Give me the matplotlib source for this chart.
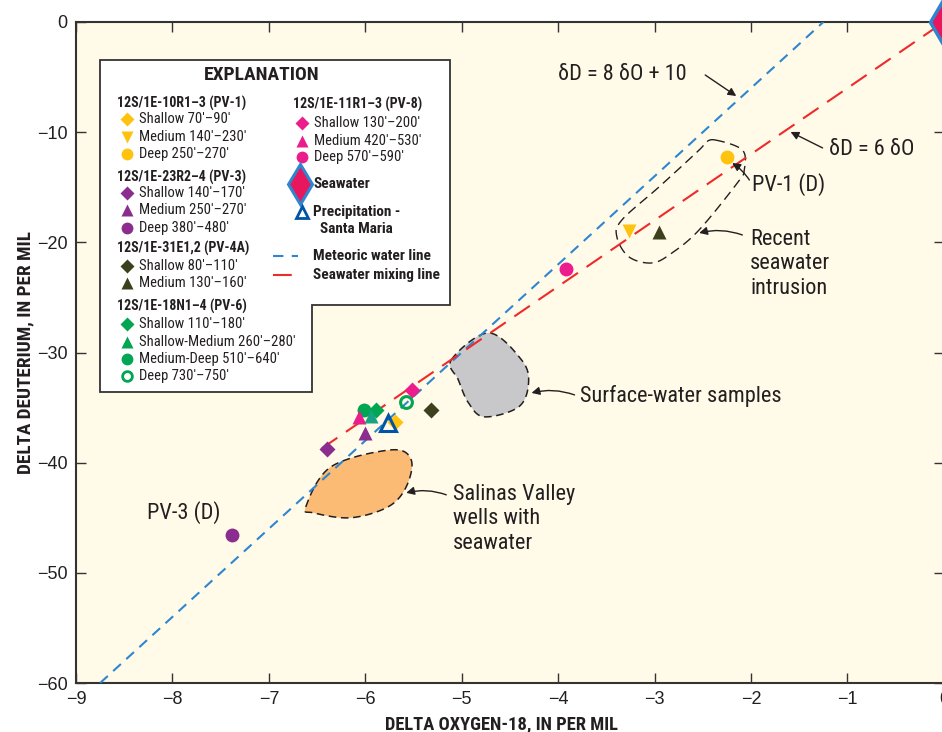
import numpy as np
import matplotlib
matplotlib.use("Agg")
import matplotlib.pyplot as plt
from matplotlib.lines import Line2D
from matplotlib.patches import Polygon
import matplotlib.transforms as mtransforms
from matplotlib import font_manager

_names = {f.name for f in font_manager.fontManager.ttflist}
_pref = [n for n in ['Liberation Sans Narrow', 'Roboto Condensed', 'Open Sans Condensed', 'Roboto'] if n in _names]
FAM = (_pref[:1] or ['DejaVu Sans']) + ['DejaVu Sans']
plt.rcParams['font.family'] = FAM
plt.rcParams['axes.unicode_minus'] = True
CONDENSED = FAM[0] in ('Liberation Sans Narrow', 'Roboto Condensed', 'Open Sans Condensed')
K = 1.0 if CONDENSED else 0.9
_tp = [n for n in ['Liberation Sans', 'Arimo', 'Arial', 'Roboto', 'Noto Sans'] if n in _names]
TICKFAM = (_tp[:1] or ['DejaVu Sans']) + ['DejaVu Sans']

# ---------------- data ----------------
pv1_x = [-5.69, -3.27, -2.25]
pv1_y = [-36.3, -19.0, -12.25]
pv3_x = [-6.40, -6.00, -7.38]
pv3_y = [-38.8, -37.3, -46.6]
pv4a_x = [-5.32, -2.95]
pv4a_y = [-35.2, -19.1]
pv6_x = [-6.01, -5.89, -5.94, -5.58]
pv6_y = [-35.2, -35.2, -35.8, -34.5]
pv8_x = [-5.52, -6.07, -3.92]
pv8_y = [-33.4, -35.9, -22.4]
seawater_x = [0.0]
seawater_y = [0.0]
precip_x = [-5.76]
precip_y = [-36.4]

meteoric_x = [-8.75, -1.25]          # dD = 8 dO + 10
mixing_x = [-6.45, 0.0]              # dD = 6 dO

surface_x = [-5.108, -4.723, -4.38, -4.307, -4.41, -4.765, -4.93, -5.035]
surface_y = [-30.67, -28.22, -30.67, -32.76, -34.94, -35.84, -34.57, -32.49]
salinas_x = [-6.617, -6.357, -5.733, -5.524, -5.576, -5.764, -6.15, -6.534]
salinas_y = [-44.01, -40.38, -38.84, -39.75, -42.2, -44.01, -45.0, -44.56]
recent_x = [-2.371, -2.09, -2.07, -2.142, -2.538, -2.819, -3.027, -3.266, -3.391, -3.339, -2.954, -2.538, -2.476]
recent_y = [-10.71, -11.62, -13.43, -14.61, -18.87, -20.96, -21.87, -21.32, -19.51, -17.97, -14.97, -11.62, -10.98]

x_ticks = [-9, -8, -7, -6, -5, -4, -3, -2, -1, 0]
y_ticks = [0, -10, -20, -30, -40, -50, -60]

YELLOW = '#ffc20e'
PURPLE = '#8b2c8f'
OLIVE = '#3d401d'
GREEN = '#00a651'
TEAL = '#17a383'
PINK = '#ec1c8c'
BLUE = '#0054a6'
MBLUE = '#2e86d1'
RED = '#ee2a2a'
INK = '#231f20'
BG = '#fffbe8'


def smooth_closed(xs, ys, n=20):
    p = np.column_stack([xs, ys])
    m = len(p)
    out = []
    for i in range(m):
        p0, p1, p2, p3 = p[(i - 1) % m], p[i], p[(i + 1) % m], p[(i + 2) % m]
        t = np.linspace(0, 1, n, endpoint=False)[:, None]
        seg = 0.5 * ((2 * p1) + (-p0 + p2) * t + (2 * p0 - 5 * p1 + 4 * p2 - p3) * t ** 2
                     + (-p0 + 3 * p1 - 3 * p2 + p3) * t ** 3)
        out.append(seg)
    return np.vstack(out)


fig = plt.figure(figsize=(9.42, 7.32), dpi=100)
ax = fig.add_axes([76 / 942, 1 - 683 / 732, 1.002 - 76 / 942, (683 - 22) / 732])
ax.set_facecolor(BG)
ax.set_xlim(-9, 0)
ax.set_ylim(-60, 0)
ax.set_xticks(x_ticks)
ax.set_yticks(y_ticks)
ax.set_xticklabels(['0' if v == 0 else '\u2212%d' % abs(v) for v in x_ticks])
ax.set_yticklabels(['0' if v == 0 else '\u2212%d' % abs(v) for v in y_ticks])
ax.tick_params(direction='in', length=7, width=1, colors='#333333', labelcolor=INK,
               labelsize=13, top=True, right=True, pad=6)
for lab in ax.get_xticklabels() + ax.get_yticklabels():
    lab.set_family(TICKFAM)
for s in ax.spines.values():
    s.set_linewidth(1.5)
    s.set_color('#333333')
ax.set_xlabel('DELTA OXYGEN-18, IN PER MIL', fontsize=13.3 * K, fontweight='bold', color=INK)
ax.xaxis.set_label_coords(0.49, -0.049)
ax.set_ylabel('DELTA DEUTERIUM, IN PER MIL', fontsize=13.8 * K, fontweight='bold', color=INK, labelpad=2)

# blobs
sp = smooth_closed(surface_x, surface_y)
ax.add_patch(Polygon(sp, closed=True, facecolor='#c8c8ca', edgecolor=INK, lw=1.1, ls=(0, (5, 3)), zorder=2))
sv = smooth_closed(salinas_x, salinas_y)
ax.add_patch(Polygon(sv, closed=True, facecolor='#fbbb74', edgecolor=INK, lw=1.1, ls=(0, (5, 3)), zorder=2))
rc = smooth_closed(recent_x, recent_y)
ax.add_patch(Polygon(rc, closed=True, facecolor='none', edgecolor=INK, lw=1.0, ls=(0, (7, 4)), zorder=2))

# lines
mx = np.array(meteoric_x)
ax.plot(mx, 8 * mx + 10, color=MBLUE, lw=1.5, ls=(0, (5, 3.5)), zorder=3)
rx = np.array(mixing_x)
ax.plot(rx, 6 * rx, color=RED, lw=1.5, ls=(0, (9, 5)), zorder=3)

# points
ms_d, ms_t, ms_c = 9, 10, 10
ax.plot(pv6_x[0], pv6_y[0], 'o', color=GREEN, ms=ms_c, mec='none', zorder=5)
ax.plot(pv6_x[1], pv6_y[1], 'D', color=GREEN, ms=ms_d * 0.85, mec='none', zorder=5)
ax.plot(pv8_x[1], pv8_y[1], '^', color=PINK, ms=ms_t, mec='none', zorder=6)
ax.plot(pv6_x[2], pv6_y[2], '^', color=TEAL, ms=ms_t, mec='none', zorder=6)
ax.plot(pv6_x[3], pv6_y[3], 'o', mfc='none', mec=GREEN, mew=2.2, ms=ms_c * 0.85, zorder=6)
ax.plot(pv3_x[0], pv3_y[0], 'D', color=PURPLE, ms=ms_d * 0.85, mec='none', zorder=5)
ax.plot(pv3_x[1], pv3_y[1], '^', color=PURPLE, ms=ms_t, mec='none', zorder=5)
ax.plot(pv3_x[2], pv3_y[2], 'o', color=PURPLE, ms=ms_c, mec='none', zorder=5)
ax.plot(pv1_x[0], pv1_y[0], 'D', color=YELLOW, ms=ms_d * 0.85, mec='none', zorder=5)
ax.plot(pv1_x[1], pv1_y[1], 'v', color=YELLOW, ms=ms_t, mec='none', zorder=5)
ax.plot(pv1_x[2], pv1_y[2], 'o', color=YELLOW, ms=ms_c, mec='none', zorder=5)
ax.plot(pv4a_x[0], pv4a_y[0], 'D', color=OLIVE, ms=ms_d * 0.85, mec='none', zorder=5)
ax.plot(pv4a_x[1], pv4a_y[1], '^', color=OLIVE, ms=ms_t, mec='none', zorder=5)
ax.plot(pv8_x[0], pv8_y[0], 'D', color=PINK, ms=ms_d * 0.85, mec='none', zorder=5)
ax.plot(pv8_x[2], pv8_y[2], 'o', color=PINK, ms=ms_c, mec='none', zorder=5)
ax.plot(precip_x, precip_y, '^', mfc='none', mec=BLUE, mew=2.2, ms=ms_t * 1.1, zorder=7)
ax.plot(seawater_x, seawater_y, 'd', mfc='#e8175d', mec=MBLUE, mew=2.5, ms=24, zorder=8, clip_on=False)

# annotations
afs = 16 * K
arrow = dict(arrowstyle='-|>', color=INK, lw=1.0, mutation_scale=12, shrinkA=0, shrinkB=0)
ax.text(-4.0, -4.81, '\u03b4D = 8 \u03b4O + 10', fontsize=afs, color=INK, va='center', ha='left')
ax.annotate('', xy=(-2.153, -6.72), xytext=(-2.475, -4.81), arrowprops=dict(arrow, connectionstyle='arc3,rad=0'))
ax.text(-1.19, -11.6, '\u03b4D = 6 \u03b4O', fontsize=afs, color=INK, va='center', ha='left')
ax.annotate('', xy=(-1.59, -9.98), xytext=(-1.258, -11.43), arrowprops=dict(arrow, connectionstyle='arc3,rad=0'))
ax.text(-1.986, -14.79, 'PV-1 (D)', fontsize=afs, color=INK, va='center', ha='left')
ax.annotate('', xy=(-2.195, -12.8), xytext=(-2.017, -14.34), arrowprops=dict(arrow, connectionstyle='arc3,rad=0.1'))
ax.text(-2.007, -21.96, 'Recent\nseawater\nintrusion', fontsize=afs, color=INK, va='center', ha='left',
        linespacing=1.2)
ax.annotate('', xy=(-2.538, -19.15), xytext=(-2.09, -19.33), arrowprops=dict(arrow, connectionstyle='arc3,rad=0.15'))
ax.text(-3.776, -33.94, 'Surface-water samples', fontsize=afs, color=INK, va='center', ha='left')
ax.annotate('', xy=(-4.276, -33.67), xytext=(-3.83, -33.85), arrowprops=dict(arrow, connectionstyle='arc3,rad=0.15'))
ax.text(-5.087, -45.1, 'Salinas Valley\nwells with\nseawater', fontsize=afs, color=INK, va='center', ha='left',
        linespacing=1.2)
ax.annotate('', xy=(-5.576, -42.74), xytext=(-5.16, -42.92), arrowprops=dict(arrow, connectionstyle='arc3,rad=0.15'))
ax.text(-7.887, -44.56, 'PV-3 (D)', fontsize=afs, color=INK, va='center', ha='center')

# ---------------- explanation box (pixel layout) ----------------
T = mtransforms.Affine2D().scale(1 / 942, -1 / 732).translate(0, 1) + fig.transFigure
box = Polygon([(100, 60), (450, 60), (450, 305), (312, 305), (312, 392), (100, 392)], closed=True,
              facecolor='white', edgecolor='#333333', lw=1.3, transform=T, zorder=20)
fig.add_artist(box)

LFS = 10.5 * K if CONDENSED else 8.6
HFS = LFS * 0.95


def ftxt(x, y, s, size=None, bold=False):
    fig.text(x, y, s, transform=T, fontsize=size or LFS, fontweight='bold' if bold else 'normal',
             color=INK, va='center', ha='left', zorder=21)


def fmark(x, y, marker, color, ms, filled=True, mew=1.8, mec=None):
    if filled:
        ln = Line2D([x], [y], marker=marker, color=color, ms=ms, mec=mec if mec else 'none',
                    mew=mew, ls='none', transform=T, zorder=21)
    else:
        ln = Line2D([x], [y], marker=marker, mfc='none', mec=color, ms=ms, mew=mew,
                    ls='none', transform=T, zorder=21)
    fig.add_artist(ln)


fig.text(262, 75, 'EXPLANATION', transform=T, fontsize=14 * K, fontweight='bold', color=INK,
         ha='center', va='center', zorder=21)

left_groups = [
    ('12S/1E-10R1\u20133 (PV-1)', 103, [
        ('D', YELLOW, "Shallow 70'\u201390'", 119), ('v', YELLOW, "Medium 140'\u2013230'", 137),
        ('o', YELLOW, "Deep 250'\u2013270'", 154)]),
    ('12S/1E-23R2\u20134 (PV-3)', 177, [
        ('D', PURPLE, "Shallow 140'\u2013170'", 193), ('^', PURPLE, "Medium 250'\u2013270'", 210),
        ('o', PURPLE, "Deep 380'\u2013480'", 228)]),
    ('12S/1E-31E1,2 (PV-4A)', 248, [
        ('D', OLIVE, "Shallow 80'\u2013110'", 266), ('^', OLIVE, "Medium 130'\u2013160'", 283)]),
    ('12S/1E-18N1\u20134 (PV-6)', 306, [
        ('D', GREEN, "Shallow 110'\u2013180'", 324), ('^', GREEN, "Shallow-Medium 260'\u2013280'", 342),
        ('o', GREEN, "Medium-Deep 510'\u2013640'", 359), ('open', GREEN, "Deep 730'\u2013750'", 376)]),
]
for head, hy, items in left_groups:
    ftxt(117, hy, head, size=HFS, bold=True)
    for mk, col, lab, iy in items:
        if mk == 'open':
            fmark(127, iy, 'o', col, 7, filled=False, mew=2)
        else:
            fmark(127, iy, mk, col, 7 if mk == 'D' else 8.5)
        ftxt(139, iy, lab)

ftxt(293, 104, '12S/1E-11R1\u20133 (PV-8)', size=HFS, bold=True)
for mk, lab, iy in [('D', "Shallow 130'\u2013200'", 123), ('^', "Medium 420'\u2013530'", 141),
                    ('o', "Deep 570'\u2013590'", 157)]:
    fmark(302, iy, mk, PINK, 7 if mk == 'D' else 8.5)
    ftxt(314, iy, lab)

fmark(300, 184, 'd', '#e8175d', 20, mec=MBLUE, mew=2.2)
ftxt(313, 184, 'Seawater', size=LFS * 1.05, bold=True)
fmark(302, 212, '^', BLUE, 8.5, filled=False, mew=2)
ftxt(313, 212, 'Precipitation -', size=LFS * 1.05, bold=True)
ftxt(320, 229, 'Santa Maria', size=LFS * 1.05, bold=True)
fig.add_artist(Line2D([273, 298], [256, 256], color=MBLUE, lw=1.5, ls=(0, (5, 4)), transform=T, zorder=21))
ftxt(313, 256, 'Meteoric water line', size=LFS * 1.05, bold=True)
fig.add_artist(Line2D([273, 303], [275, 275], color=RED, lw=1.5, ls=(0, (9, 6)), transform=T, zorder=21))
ftxt(313, 275, 'Seawater mixing line', size=LFS * 1.05, bold=True)

fig.savefig('out.png', dpi=100, facecolor='white')
